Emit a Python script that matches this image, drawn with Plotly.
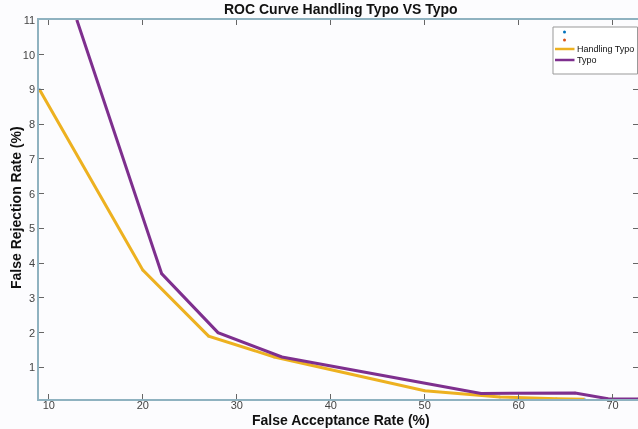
import plotly.graph_objects as go

# Data
handling_x = [9, 20, 27, 34, 50, 58, 64, 67]
handling_y = [9.0, 3.8, 1.9, 1.3, 0.33, 0.15, 0.1, 0.08]
typo_x = [12.98, 22, 28, 34.8, 56, 66, 69.5, 72.7]
typo_y = [11.0, 3.7, 2.0, 1.3, 0.25, 0.26, 0.1, 0.09]

x_ticks = [10, 20, 30, 40, 50, 60, 70]
y_ticks = [1, 2, 3, 4, 5, 6, 7, 8, 9, 10, 11]

series_names = ["Handling Typo", "Typo"]
series_colors = ["#EDB120", "#7E2F8E"]
dot_colors = ["#0072BD", "#D95319"]

AXIS = "#8fb2c0"
FONT = "Liberation Sans, Arial, Helvetica, sans-serif"

W, H = 638, 429
L, R, T, B = 39, 0, 20, 30
PW, PH = W - L - R, H - T - B


def px(x):
    return (x - L) / PW


def py(y):
    return (H - B - y) / PH


fig = go.Figure()
for xs, ys, c in [(handling_x, handling_y, dot_colors[0]), (typo_x, typo_y, dot_colors[1])]:
    fig.add_trace(go.Scatter(x=xs, y=ys, mode="markers",
                             marker=dict(color=c, size=3), opacity=0.4,
                             showlegend=False, hoverinfo="skip"))
for xs, ys, c, n in [(handling_x, handling_y, series_colors[0], series_names[0]),
                     (typo_x, typo_y, series_colors[1], series_names[1])]:
    fig.add_trace(go.Scatter(x=xs, y=ys, mode="lines", name=n,
                             line=dict(color=c, width=3), showlegend=False))

axis_common = dict(showline=True, linecolor=AXIS, linewidth=1.5, mirror="ticks",
                   ticks="inside", ticklen=5, tickcolor="#666", showgrid=False,
                   zeroline=False, tickfont=dict(family=FONT, size=11, color="#444"))

# Manual compact legend (pixel positions converted to paper coordinates)
shapes = [
    dict(type="rect", xref="paper", yref="paper", x0=px(553), x1=px(637.5),
         y0=py(74), y1=py(27), line=dict(color="#999", width=1), fillcolor="#ffffff",
         layer="above"),
]
for i, c in enumerate(dot_colors):
    yy = [32, 40][i]
    shapes.append(dict(type="circle", xref="paper", yref="paper",
                       x0=px(563), x1=px(566), y0=py(yy + 1.5), y1=py(yy - 1.5),
                       line=dict(width=0), fillcolor=c, layer="above"))
annotations = []
for i, (c, n) in enumerate(zip(series_colors, series_names)):
    yy = [49, 60][i]
    shapes.append(dict(type="line", xref="paper", yref="paper",
                       x0=px(555), x1=px(574.5), y0=py(yy), y1=py(yy),
                       line=dict(color=c, width=2.5), layer="above"))
    annotations.append(dict(text=n, xref="paper", yref="paper", x=px(575), y=py(yy),
                            xanchor="left", yanchor="middle", showarrow=False,
                            font=dict(family=FONT, size=9, color="#111")))

annotations += [
    dict(text="<b>ROC Curve Handling Typo VS Typo</b>", xref="paper", yref="paper",
         x=px(341), y=py(9), xanchor="center", yanchor="middle", showarrow=False,
         font=dict(family=FONT, size=14, color="#111")),
    dict(text="<b>False Acceptance Rate (%)</b>", xref="paper", yref="paper",
         x=px(340.5), y=py(420), xanchor="center", yanchor="middle", showarrow=False,
         font=dict(family=FONT, size=14, color="#111")),
    dict(text="<b>False Rejection Rate (%)</b>", xref="paper", yref="paper",
         x=px(16), y=py(208), xanchor="center", yanchor="middle", showarrow=False,
         textangle=-90, font=dict(family=FONT, size=14, color="#111")),
]

fig.update_layout(
    width=W, height=H,
    margin=dict(l=L, r=R, t=T, b=B, autoexpand=False),
    paper_bgcolor="#fcfcfe", plot_bgcolor="#fcfcfe",
    xaxis=dict(range=[8.95, 72.7], tickvals=x_ticks, ticklabelstandoff=-5, **axis_common),
    yaxis=dict(range=[0.09, 11], tickvals=y_ticks, **axis_common),
    shapes=shapes,
    annotations=annotations,
    showlegend=False,
)

fig.write_html("out.html")
